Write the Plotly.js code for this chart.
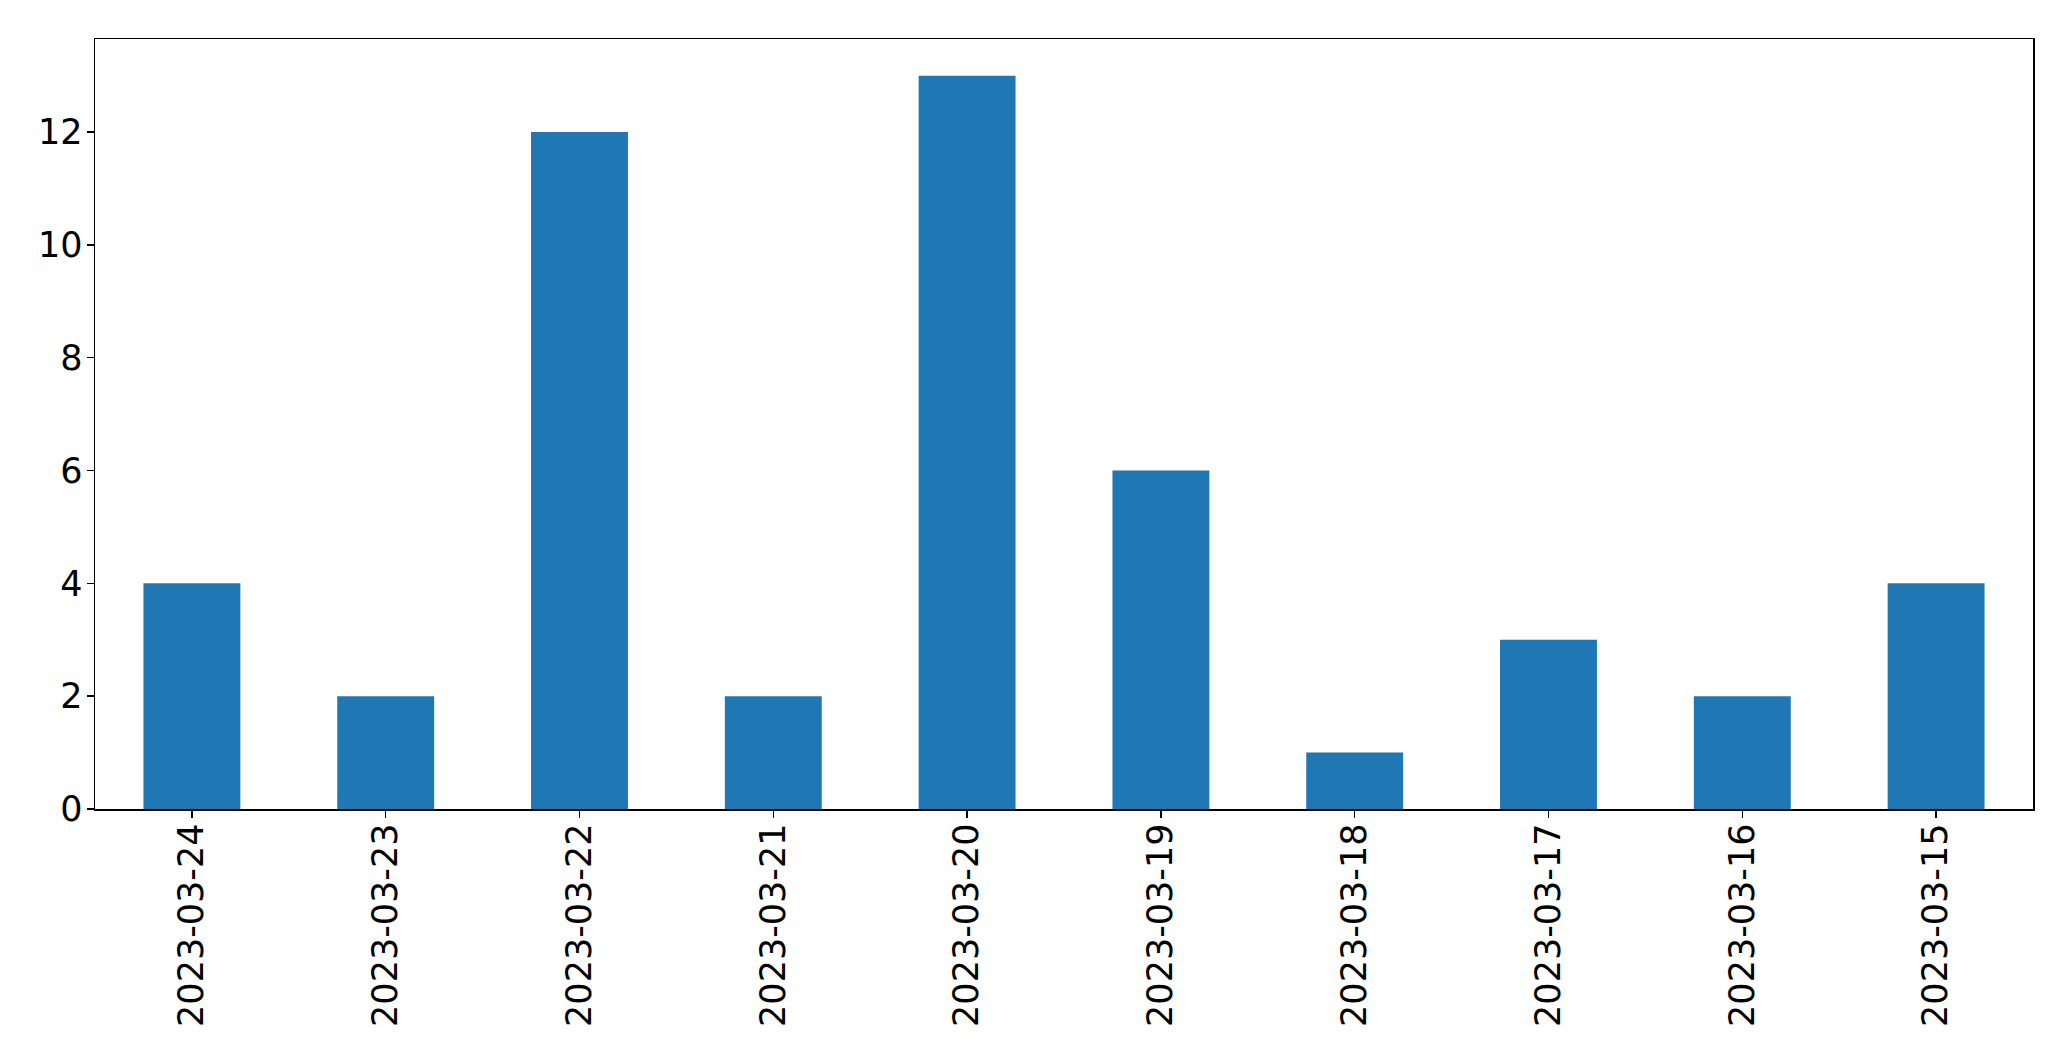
<!DOCTYPE html>
<html>
<head>
<meta charset="utf-8">
<script src="https://cdn.plot.ly/plotly-3.0.1.min.js"></script>
<style>html,body{margin:0;padding:0;background:#fff;}</style>
</head>
<body>
<div id="chart" style="width:2071px;height:1061px;"></div>
<script>
const dates = ["2023-03-24","2023-03-23","2023-03-22","2023-03-21","2023-03-20","2023-03-19","2023-03-18","2023-03-17","2023-03-16","2023-03-15"];
const counts = [4,2,12,2,13,6,1,3,2,4];
const yTicks = [0,2,4,6,8,10,12];

const font = {family: "DejaVu Sans", size: 35, color: "#000"};
Plotly.newPlot("chart", [{
  type: "bar",
  x: dates,
  y: counts,
  marker: {color: "#1f77b4", line: {width: 0}},
  hoverinfo: "x+y"
}], {
  width: 2071, height: 1061,
  margin: {l: 95, r: 38, t: 39, b: 252, pad: 0},
  paper_bgcolor: "#fff", plot_bgcolor: "#fff",
  bargap: 0.5,
  showlegend: false,
  font: font,
  xaxis: {
    type: "category",
    range: [-0.5, 9.5],
    tickangle: -90,
    ticks: "outside", ticklen: 7, tickwidth: 1.5, tickcolor: "#000",
    ticklabelstandoff: -8,
    showline: true, linecolor: "#000", linewidth: 1.5, mirror: true,
    showgrid: false, zeroline: false,
    tickfont: font,
    automargin: false
  },
  yaxis: {
    range: [0, 13.65],
    tickvals: yTicks,
    ticktext: yTicks.map(String),
    ticks: "outside", ticklen: 7, tickwidth: 1.5, tickcolor: "#000",
    ticklabelstandoff: -3,
    showline: true, linecolor: "#000", linewidth: 1.5, mirror: true,
    showgrid: false, zeroline: false,
    tickfont: font,
    automargin: false
  }
}, {displayModeBar: false, staticPlot: true});
</script>
</body>
</html>
